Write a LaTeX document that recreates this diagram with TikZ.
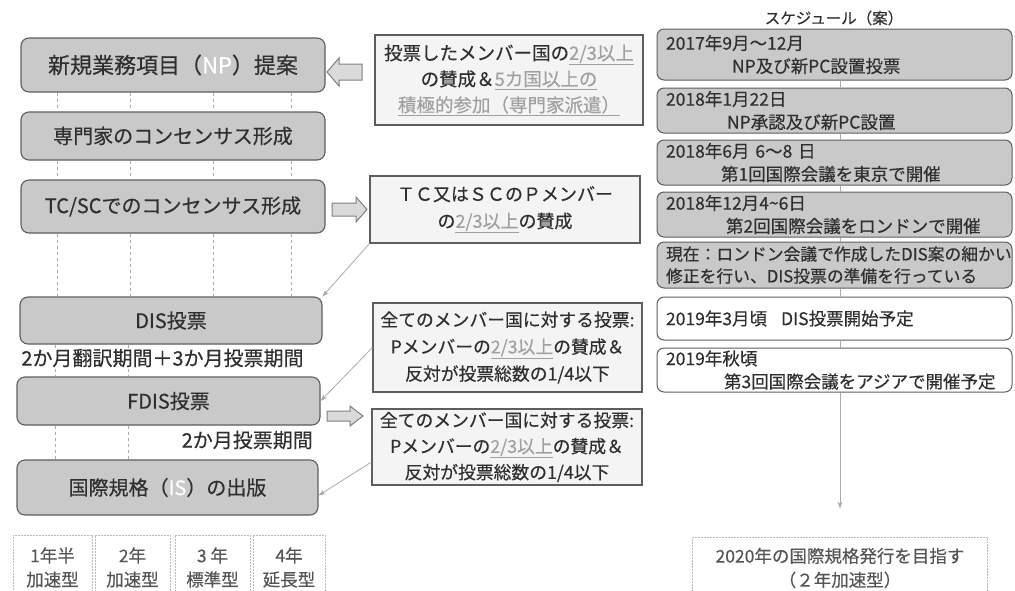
\documentclass[tikz,border=0pt]{standalone}
\usepackage{fontspec}
\setmainfont{Noto Sans CJK JP}[FakeBold=0.35]
\usetikzlibrary{arrows.meta,calc}
\definecolor{boxgray}{HTML}{C9C9C9}
\definecolor{edge}{HTML}{5E5E5E}
\definecolor{ink}{HTML}{2F2F2F}
\definecolor{hl}{HTML}{A0A0A0}
\definecolor{pale}{HTML}{F4F4F4}
\definecolor{thin}{HTML}{ABABAB}
\definecolor{arrowfill}{HTML}{DADADA}
\definecolor{faintline}{HTML}{BBBBBB}
\definecolor{softink}{HTML}{555555}
\newcommand\hlu[1]{\textcolor{hl}{\underline{#1}}}
\begin{document}
\begin{tikzpicture}[x=1pt,y=-1pt,
  every node/.style={text=ink, inner sep=0pt},
  stage/.style={draw=edge, fill=boxgray, line width=1.1pt, rounded corners=8pt, font=\fontsize{20}{24}\selectfont},
  rulebox/.style={draw=edge, fill=pale, line width=1.1pt, align=center},
  sched/.style={draw=edge, fill=boxgray, line width=1pt, rounded corners=7pt, align=left, inner xsep=9pt, text width=337pt, minimum width=355pt, font=\fontsize{17.5}{23}\selectfont},
  schedw/.style={sched, fill=white},
  guide/.style={draw=thin, dashed, line width=0.5pt},
  link/.style={draw=thin, line width=0.8pt, -{Stealth[length=7pt,width=5pt]}},
  block/.style={draw=gray, fill=arrowfill, line width=1pt, line join=miter},
  faintbox/.style={draw=faintline, line width=0.8pt, dash pattern=on 2pt off 1pt, align=center, text=softink, font=\fontsize{17.5}{24}\selectfont},
]
\useasboundingbox (0,0) rectangle (1015,590);

% ---------- left column ----------
\node[stage, minimum width=304pt, minimum height=54pt, font=\fontsize{22}{26}\selectfont] (b1) at (173,65) {新規業務項目（\textcolor{white}{NP}）提案};
\node[stage, minimum width=304pt, minimum height=48pt] (b2) at (173,136) {専門家のコンセンサス形成};
\node[stage, minimum width=304pt, minimum height=53pt] (b3) at (173,206.5) {TC/SCでのコンセンサス形成};
\node[stage, minimum width=302pt, minimum height=47pt] (b4) at (171,320.5) {DIS投票};
\node[stage, minimum width=303pt, minimum height=48pt] (b5) at (168.5,401) {FDIS投票};
\node[stage, minimum width=301pt, minimum height=55pt] (b6) at (167.5,487.5) {国際規格（\textcolor{white}{IS}）の出版};

\foreach \x in {57,130,213,291} {
  \draw[guide] (b1.south -| \x,0) -- (b2.north -| \x,0);
  \draw[guide] (b2.south -| \x,0) -- (b3.north -| \x,0);
  \draw[guide] (b3.south -| \x,0) -- (b4.north -| \x,0);
}
\foreach \x in {55,128} {
  \draw[guide] (b4.south -| \x,0) -- (b5.north -| \x,0);
  \draw[guide] (b5.south -| \x,0) -- (b6.north -| \x,0);
}

\node[fill=white, inner ysep=1pt, font=\fontsize{20}{24}\selectfont] (t1) at (162.5,358) {2か月翻訳期間＋3か月投票期間};
\node[fill=white, inner ysep=1pt, anchor=east, font=\fontsize{20}{24}\selectfont] (t2) at (313,440) {2か月投票期間};

% ---------- middle column ----------
\node[rulebox, minimum width=268pt, minimum height=90pt, font=\fontsize{18.5}{26}\selectfont] (A) at (509,80)
  {投票したメンバー国の\hlu{2/3以上}\\の賛成＆\hlu{5カ国以上の}\\\hlu{積極的参加（専門家派遣）}};
\node[rulebox, minimum width=270pt, minimum height=67pt, font=\fontsize{18}{27}\selectfont] (B) at (505,209.5)
  {ＴＣ又はＳＣのＰメンバー\\の\hlu{2/3以上}の賛成};
\node[rulebox, minimum width=269pt, minimum height=89pt, font=\fontsize{17.8}{27}\selectfont] (C) at (507.5,347.5)
  {全てのメンバー国に対する投票:\\Pメンバーの\hlu{2/3以上}の賛成＆\\反対が投票総数の1/4以下};
\node[rulebox, minimum width=270pt, minimum height=76pt, font=\fontsize{17.8}{26}\selectfont] (D) at (507,447)
  {全てのメンバー国に対する投票:\\Pメンバーの\hlu{2/3以上}の賛成＆\\反対が投票総数の1/4以下};

% block arrows
\draw[block] (362,64) -- (339,64) -- (339,58) -- (327,72) -- (339,86) -- (339,80) -- (362,80) -- cycle;
\draw[block] (332,203) -- (356,203) -- (356,197) -- (367,209.5) -- (356,222) -- (356,216) -- (332,216) -- cycle;
\draw[block] (327,411) -- (350,411) -- (350,406) -- (363,416) -- (350,426) -- (350,421) -- (327,421) -- cycle;

% thin links
\draw[link] (B.south west) -- (b4.north east);
\draw[link] (C.west) -- (b5.east);
\draw[link] ([yshift=-15pt]D.west) -- ([yshift=-8pt]b6.east);

% ---------- right column ----------
\node[font=\fontsize{15.5}{19}\selectfont] (title) at (834,18) {スケジュール（案）};
\node[sched, minimum height=51pt] (s1) at (834.5,54.5) {2017年9月～12月\\\hspace*{66pt}NP及び新PC設置投票};
\node[sched, minimum height=45pt] (s2) at (834.5,110.5) {2018年1月22日\\\hspace*{61pt}NP承認及び新PC設置};
\node[sched, minimum height=45pt] (s3) at (834.5,162.5) {2018年6月 6～8 日\\\hspace*{55pt}第1回国際会議を東京で開催};
\node[sched, minimum height=45pt] (s4) at (834.5,214.5) {2018年12月4\textasciitilde6日\\\hspace*{60pt}第2回国際会議をロンドンで開催};
\node[sched, minimum height=46pt, font=\fontsize{16.8}{22}\selectfont] (s5) at (834.5,265) {現在：ロンドン会議で作成したDIS案の細かい\\修正を行い、DIS投票の準備を行っている};
\node[schedw, minimum height=43pt] (s6) at (834.5,318.5) {2019年3月頃\hspace{0.8em}DIS投票開始予定};
\node[schedw, minimum height=44pt] (s7) at (834.5,370) {2019年秋頃\\\hspace*{58pt}第3回国際会議をアジアで開催予定};

\node[faintbox, minimum width=295pt, minimum height=62pt, inner ysep=4pt] (F) at (840,568)
  {2020年の国際規格発行を目指す\\（２年加速型）};

\foreach \a/\b in {s1/s2,s2/s3,s3/s4,s4/s5,s5/s6,s6/s7}
  \draw[draw=thin, line width=0.7pt] (\a.south -| F.north) -- (\b.north -| F.north);
\draw[link, shorten >=28pt] (s7.south -| F.north) -- (F.north);

% ---------- bottom duration boxes ----------
\node[faintbox, minimum width=79pt, minimum height=65pt] (y1) at (52.5,567.5) {1年半\\加速型};
\node[faintbox, minimum width=75pt, minimum height=65pt] (y2) at (132.5,567.5) {2年\\加速型};
\node[faintbox, minimum width=75pt, minimum height=65pt] (y3) at (212.5,567.5) {3 年\\標準型};
\node[faintbox, minimum width=72pt, minimum height=65pt] (y4) at (289,567.5) {4年\\延長型};
\end{tikzpicture}
\end{document}
